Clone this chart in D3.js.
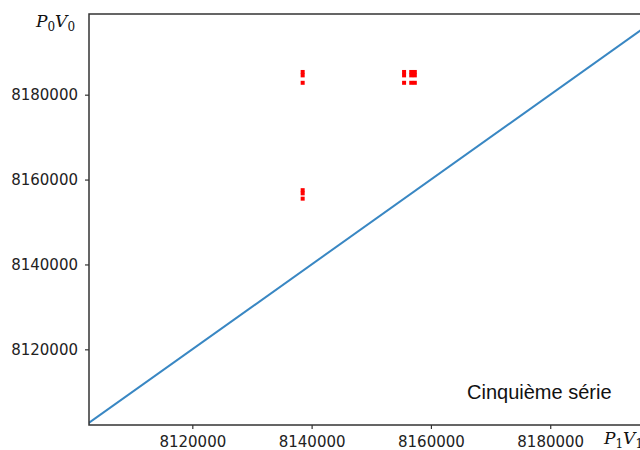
<!doctype html>
<html lang="fr">
<head>
<meta charset="UTF-8">
<script src="https://d3js.org/d3.v7.min.js"></script>
<style>
    body { margin: 0; background: #fff; }
    .tick text { font: 15px "DejaVu Sans", sans-serif; fill: #222; }
    .math { font: italic 17px "DejaVu Serif", serif; fill: #111; }
    .note { font: 20px "Liberation Sans", Arial, sans-serif; fill: #111; }
</style>
</head>
<body>
<svg id="chart" width="640" height="450"></svg>
<script>
    // mesures : P1V1 (abscisse) et P0V0 (ordonnée)
    var p1v1 = [8138500, 8138500, 8138500, 8138500, 8138500, 8138500,
                8155500, 8155500, 8155500,
                8156700, 8156700, 8156700,
                8157300, 8157300, 8157300];
    var p0v0 = [8185350, 8184550, 8182800, 8157500, 8156750, 8155500,
                8185350, 8184550, 8182800,
                8185350, 8184550, 8182800,
                8185350, 8184550, 8182800];
    // droite y = x
    var lineVals = [8100000, 8200000];
    var xTicks = [8120000, 8140000, 8160000, 8180000];
    var yTicks = [8120000, 8140000, 8160000, 8180000];

    var mLeft = 89, mRight = 640, mTop = 14, mBottom = 425;

    var svg = d3.select("#chart");

    var x = d3.scaleLinear().domain([8102680, 8195050]).range([mLeft, mRight]);
    var y = d3.scaleLinear().domain([8102170, 8199010]).range([mBottom, mTop]);

    svg.append("clipPath").attr("id", "clip")
        .append("rect")
        .attr("x", mLeft).attr("y", mTop)
        .attr("width", mRight - mLeft).attr("height", mBottom - mTop);

    var plot = svg.append("g").attr("clip-path", "url(#clip)");

    plot.append("line")
        .attr("x1", x(lineVals[0])).attr("y1", y(lineVals[0]))
        .attr("x2", x(lineVals[1])).attr("y2", y(lineVals[1]))
        .attr("stroke", "#3987c3")
        .attr("stroke-width", 2);

    var pts = p1v1.map(function (d, i) { return [d, p0v0[i]]; });
    plot.selectAll("rect.pt")
        .data(pts)
        .enter()
        .append("rect")
        .attr("class", "pt")
        .attr("x", function (d) { return x(d[0]) - 2; })
        .attr("y", function (d) { return y(d[1]) - 2; })
        .attr("width", 4)
        .attr("height", 4)
        .attr("fill", "#ff0000");

    var xAxis = d3.axisBottom(x).tickValues(xTicks).tickSize(4).tickPadding(7).tickFormat(d3.format("d"));
    var yAxis = d3.axisLeft(y).tickValues(yTicks).tickSize(4).tickPadding(7).tickFormat(d3.format("d"));

    var gx = svg.append("g").attr("transform", "translate(0," + mBottom + ")").call(xAxis);
    var gy = svg.append("g").attr("transform", "translate(" + mLeft + ",0)").call(yAxis);
    gx.select(".domain").remove();
    gy.select(".domain").remove();
    svg.selectAll(".tick line").attr("stroke", "#333").attr("stroke-width", 1.2);
    gx.selectAll(".tick text").attr("dy", "0.75em");

    // cadre
    svg.append("rect")
        .attr("x", mLeft).attr("y", mTop)
        .attr("width", mRight - mLeft + 2).attr("height", mBottom - mTop)
        .attr("fill", "none")
        .attr("stroke", "#333")
        .attr("stroke-width", 1.5);

    // étiquettes des axes
    var ly = svg.append("text").attr("class", "math").attr("x", 36).attr("y", 27);
    ly.append("tspan").text("P");
    ly.append("tspan").attr("font-size", 12).attr("font-style", "normal").attr("dy", 4).text("0");
    ly.append("tspan").attr("dy", -4).text("V");
    ly.append("tspan").attr("font-size", 12).attr("font-style", "normal").attr("dy", 4).text("0");

    var lx = svg.append("text").attr("class", "math").attr("x", 604).attr("y", 444);
    lx.append("tspan").text("P");
    lx.append("tspan").attr("font-size", 12).attr("font-style", "normal").attr("dy", 4).text("1");
    lx.append("tspan").attr("dy", -4).text("V");
    lx.append("tspan").attr("font-size", 12).attr("font-style", "normal").attr("dy", 4).text("1");

    svg.append("text")
        .attr("class", "note")
        .attr("x", 467)
        .attr("y", 399)
        .text("Cinquième série");
</script>
</body>
</html>
